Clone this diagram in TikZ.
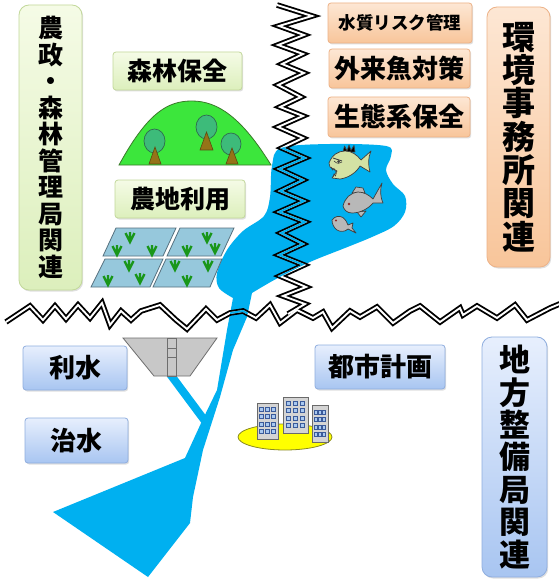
\documentclass[tikz,border=0pt]{standalone}
\usepackage{fontspec}
\newfontfamily\jpf{Noto Sans CJK JP}
\usetikzlibrary{shadows}
\newcommand\jpsize[2]{\jpf\bfseries\fontsize{#1}{#2}\selectfont}

\definecolor{waterblue}{HTML}{00B0F0}
\definecolor{gTop}{HTML}{F5FBE6}
\definecolor{gBot}{HTML}{DCEFBC}
\definecolor{gLine}{HTML}{C2D89A}
\definecolor{oTop}{HTML}{FDE7D4}
\definecolor{oBot}{HTML}{F8C59A}
\definecolor{oLine}{HTML}{EDB287}
\definecolor{bTop}{HTML}{E7EFFD}
\definecolor{bBot}{HTML}{A8C5F1}
\definecolor{bLine}{HTML}{8FAEDF}
\definecolor{hillgreen}{HTML}{3CE63C}
\definecolor{hillline}{HTML}{3A7A2A}
\definecolor{crown}{HTML}{3DBB7A}
\definecolor{crownline}{HTML}{2F6B4F}
\definecolor{trunk}{HTML}{957318}
\definecolor{trunkline}{HTML}{5E4A10}
\definecolor{paddy}{HTML}{96C8DC}
\definecolor{paddyline}{HTML}{56707E}
\definecolor{sproutgreen}{HTML}{199619}
\definecolor{damgray}{HTML}{C8C8C8}
\definecolor{damline}{HTML}{6E6E6E}
\definecolor{cityyellow}{HTML}{FFFF00}
\definecolor{cityline}{HTML}{8A8A20}
\definecolor{bldg}{HTML}{D4D4D4}
\definecolor{bldgline}{HTML}{6A6A6A}
\definecolor{winfill}{HTML}{A8C8F0}
\definecolor{winline}{HTML}{3A5A9A}
\definecolor{piranhafill}{HTML}{D4E2A4}
\definecolor{fishgray}{HTML}{B8B8B8}
\definecolor{fishline}{HTML}{404040}
\definecolor{fisheye}{HTML}{8B2A2A}

\tikzset{
  labelbox/.style={inner sep=0pt, rounded corners=3pt, line width=0.8pt,
    drop shadow={shadow xshift=1.2pt, shadow yshift=-1.5pt, opacity=0.25}},
  greenbox/.style={labelbox, top color=gTop, bottom color=gBot, draw=gLine},
  orangebox/.style={labelbox, top color=oTop, bottom color=oBot, draw=oLine},
  bluebox/.style={labelbox, top color=bTop, bottom color=bBot, draw=bLine},
  tallbox/.style={rounded corners=10pt, align=center},
  paddyfield/.style={fill=paddy, draw=paddyline, line width=0.8pt},
  sproutline/.style={draw=sproutgreen, line width=2.3pt},
  sprout/.pic={\draw[sproutline] (-4.5,-9) -- (0,0) -- (4.5,-9) (0,0) -- (0,-10);},
  crownshape/.style={fill=crown, draw=crownline, line width=0.7pt},
  trunkshape/.style={fill=trunk, draw=trunkline, line width=0.6pt},
  building/.style={fill=bldg, draw=bldgline, line width=0.7pt},
  winbox/.style={fill=winfill, draw=winline, line width=0.5pt},
  fishbody/.style={draw=fishline, line width=0.7pt, line join=round},
  zigouter/.style={draw=black, line width=5.6pt, line join=miter, miter limit=6},
  ziginner/.style={line width=1.9pt, line join=miter, miter limit=6},
  waterpath/.style={insert path={
    plot[smooth, tension=0.55] coordinates {(233,298) (219,288) (217,273) (227,250)
      (243,231) (264,216) (270,197) (272,166) (281,148) (330,144) (386,146)
      (391,156) (386,170) (393,184) (405,196) (405,212) (394,226) (372,237)
      (345,248) (310,262) (276,279) (252,293)}
    -- (247,317) -- (233,350) -- (220,397) -- (203,450) -- (193,497)
    -- (190,523) -- (148,577) -- (53,512) -- (185,458) -- (202,421)
    -- (217,390) -- (227,330) -- cycle}},
  hzigpath/.style={insert path={(6,322) -- (30,306) -- (43,320) -- (55,306)
    -- (66,319) -- (78,305) -- (90,318) -- (102,303) -- (110,325) -- (121,311)
    -- (131,320) -- (141,311) -- (160,305) -- (176,320) -- (187,329)
    -- (206,309) -- (217,320) -- (230,313) -- (243,311) -- (256,318)
    -- (270,305) -- (280,323) -- (297,310) -- (313,318) -- (323,312)
    -- (332,328) -- (350,311) -- (360,317) -- (377,307) -- (393,323)
    -- (410,311) -- (420,306) -- (440,322) -- (460,308) -- (463,315)
    -- (477,306) -- (497,318) -- (515,305) -- (527,320) -- (550,308)
    -- (562,303)}},
  vzigpath/.style={insert path={(277,5) -- (312,16) -- (279,26) -- (304,35)
    -- (278,45) -- (303,54) -- (282,64) -- (304,73) -- (278,85) -- (301,97)
    -- (280,107) -- (303,116) -- (278,127) -- (303,138) -- (282,148)
    -- (305,158) -- (279,169) -- (303,180) -- (280,191) -- (304,201)
    -- (279,212) -- (305,222) -- (281,233) -- (303,244) -- (279,255)
    -- (304,265) -- (280,276) -- (306,287) -- (283,296) -- (305,304)
    -- (288,314)}}
}

\begin{document}
\begin{tikzpicture}[x=1pt, y=-1pt]
\useasboundingbox[fill=white] (0,0) rectangle (558,580);

% ---- lake and river ----
\fill[waterblue, waterpath];
\draw[waterblue, line width=8pt] (170,374) -- (205,421);

% ---- dam ----
\filldraw[fill=damgray, draw=damline, line width=0.8pt]
  (123,338) -- (217,338) -- (190,376) -- (154,376) -- cycle;
\draw[damline, line width=0.8pt] (167,338) rectangle (176,376)
  (167,348) -- (176,348) (167,357) -- (176,357);

% ---- forest hill with trees ----
\filldraw[fill=hillgreen, draw=hillline, line width=0.8pt]
  (119,165) .. controls (148,112) and (168,101) .. (192,101)
  .. controls (218,101) and (242,118) .. (271,165) -- cycle;
\filldraw[crownshape] (154.5,141) ellipse [x radius=10.5, y radius=12];
\filldraw[crownshape] (206.5,127) ellipse [x radius=10.5, y radius=12];
\filldraw[crownshape] (231,144) ellipse [x radius=10, y radius=11];
\filldraw[trunkshape] (155,147) -- (161,164) -- (149,164) -- cycle;
\filldraw[trunkshape] (206.5,132) -- (213,150) -- (200,150) -- cycle;
\filldraw[trunkshape] (232,148) -- (238,164) -- (226,164) -- cycle;

% ---- paddy fields ----
\filldraw[paddyfield] (116,228) -- (176,228) -- (163,256) -- (103,256) -- cycle;
\filldraw[paddyfield] (180,228) -- (234,228) -- (221,256) -- (167,256) -- cycle;
\filldraw[paddyfield] (105,259) -- (163,259) -- (150,287) -- (91,287) -- cycle;
\filldraw[paddyfield] (166,259) -- (222,259) -- (210,287) -- (153,287) -- cycle;
\foreach \px/\py in {130/242, 117/255, 152/255, 207/242, 187/255, 215/253,
                     129/270, 108/285, 140/283, 175/270, 187/285, 208/270}
  \pic at (\px,\py) {sprout};

% ---- town ----
\filldraw[fill=cityyellow, draw=cityline, line width=0.8pt]
  (285,437) ellipse [x radius=47, y radius=13];
\filldraw[building] (257,403) rectangle (278,439);
\filldraw[building] (283,397) rectangle (308,433);
\filldraw[building] (312,405) rectangle (328,442);
\foreach \i in {0,1,2} \foreach \j in {0,1,2,3} {
  \filldraw[winbox] ({259.5+\i*6},{407+\j*7.5}) rectangle ++(4,4);
  \filldraw[winbox] ({286+\i*7},{401+\j*7.5}) rectangle ++(4.5,4);
  \filldraw[winbox] ({314+\i*4.3},{410+\j*7.5}) rectangle ++(3,4);
}

% ---- fish ----
% piranha
\filldraw[fishbody, fill=black]
  (343,152) -- (344.5,146) -- (347,151) -- (349,145) -- (351,150.5)
  -- (354,145.5) -- (355,152) -- cycle;
\filldraw[fishbody, fill=piranhafill]
  (329,163) .. controls (332,155) and (338,151) .. (345,151)
  .. controls (352,151) and (357,155) .. (361,160) -- (371,151)
  .. controls (368,158) and (368,164) .. (370,172) -- (360,166)
  .. controls (356,173) and (348,178) .. (340,179) -- (332,178)
  -- (337,171) -- (330,167) -- cycle;
\draw[fishline, line width=0.6pt] (331,167) -- (332.5,170) -- (334,168.5) -- (335.5,171.5)
  (333,177) -- (334,174) -- (335.5,176) -- (336.5,172.5);
\draw[fishline, line width=0.9pt] (333,158) -- (342,161);
\draw[fishline, line width=0.6pt] (334,161) .. controls (337,164) and (340,164) .. (342,162);
\fill[fishline] (338.5,161.6) circle [radius=1.4];
% gray fish
\filldraw[fishbody, fill=fishgray] (352,193) -- (356,187) -- (363,188) -- (365,193) -- cycle;
\filldraw[fishbody, fill=fishgray] (357,212) -- (361,217) -- (366,211) -- cycle;
\filldraw[fishbody, fill=fishgray]
  (343,206) .. controls (345,198) and (350,193) .. (358,192)
  .. controls (364,192) and (369,195) .. (373,199) -- (382,183)
  .. controls (380,190) and (380,196) .. (383,203) -- (373,203)
  .. controls (368,209) and (360,213) .. (352,213)
  .. controls (347,213) and (344,210) .. (343,206) -- cycle;
\fill[fisheye] (349,204) circle [radius=1.3];
% small fish
\filldraw[fishbody, fill=fishgray]
  (332,220) .. controls (335,216) and (339,215.5) .. (343,217.5)
  .. controls (345,219) and (347,222) .. (348,225) -- (353,223)
  -- (352,228) -- (356,233) -- (348,229)
  .. controls (345,232) and (340,232) .. (337,230)
  .. controls (334,228) and (332,224) .. (332,220) -- cycle;
\fill[fisheye] (336,220.5) circle [radius=1.1];

% ---- zigzag boundaries ----
\draw[zigouter, hzigpath];
\draw[zigouter, vzigpath];
\draw[ziginner, white, hzigpath];
\draw[ziginner, white, vzigpath];
\begin{scope}
  \clip[waterpath];
  \draw[ziginner, waterblue, hzigpath];
  \draw[ziginner, waterblue, vzigpath];
\end{scope}

% ---- labels ----
\node[greenbox, tallbox, minimum width=63pt, minimum height=285pt,
      font=\jpsize{25}{26.5}] (agri) at (50.5,147.5)
  {農\\政\\・\\森\\林\\管\\理\\局\\関\\連};
\node[orangebox, tallbox, minimum width=63pt, minimum height=260pt,
      font=\jpsize{33}{33.3}] (env) at (518.5,137)
  {環\\境\\事\\務\\所\\関\\連};
\node[bluebox, tallbox, minimum width=65pt, minimum height=240pt,
      font=\jpsize{31}{32.4}] (reg) at (514.5,457)
  {地\\方\\整\\備\\局\\関\\連};

\node[greenbox, minimum width=129pt, minimum height=38pt, font=\jpsize{25}{27}]
  (forest) at (177.5,71) {森林保全};
\node[greenbox, minimum width=130pt, minimum height=38pt, font=\jpsize{25}{27}]
  (farm) at (180,199) {農地利用};

\node[orangebox, minimum width=144pt, minimum height=40pt, font=\jpsize{17.5}{19}]
  (quality) at (400,23) {水質リスク管理};
\node[orangebox, minimum width=141pt, minimum height=39pt, font=\jpsize{26}{28}]
  (alien) at (399.5,68.5) {外来魚対策};
\node[orangebox, minimum width=142pt, minimum height=40pt, font=\jpsize{26}{28}]
  (eco) at (399,117) {生態系保全};

\node[bluebox, minimum width=104pt, minimum height=44pt, font=\jpsize{26}{28}]
  (use) at (75,368) {利水};
\node[bluebox, minimum width=103pt, minimum height=45pt, font=\jpsize{26}{28}]
  (flood) at (76.5,440.5) {治水};
\node[bluebox, minimum width=130pt, minimum height=44pt, font=\jpsize{26}{28}]
  (urban) at (380,367) {都市計画};
\end{tikzpicture}
\end{document}
